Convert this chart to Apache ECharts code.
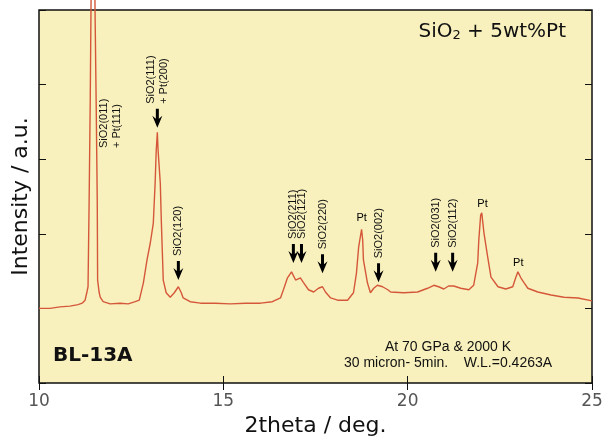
<!DOCTYPE html>
<html>
<head>
<meta charset="utf-8">
<script src="https://cdn.jsdelivr.net/npm/echarts@6/dist/echarts.min.js"></script>
<style>
  html, body { margin: 0; padding: 0; background: #fff; }
  #chart { width: 602px; height: 437px; }
</style>
</head>
<body>
<div id="chart"></div>
<script>
// 2theta (deg) and intensity (a.u.)
var twoTheta = [
  10.00, 10.30, 10.57, 10.84, 11.06, 11.17, 11.25, 11.30, 11.33, 11.36,
  11.39, 11.41, 11.47, 11.52, 11.55, 11.58, 11.59, 11.63, 11.66, 11.74,
  11.93, 12.20, 12.42, 12.61, 12.72, 12.83, 12.93, 13.02, 13.10, 13.15,
  13.18, 13.21, 13.23, 13.29, 13.32, 13.37, 13.45, 13.56, 13.67, 13.78,
  13.86, 13.91, 14.10, 14.38, 14.78, 15.19, 15.60, 16.01, 16.33, 16.55,
  16.63, 16.74, 16.85, 16.96, 17.09, 17.17, 17.31, 17.45, 17.58, 17.69,
  17.77, 17.91, 18.10, 18.37, 18.53, 18.61, 18.67, 18.75, 18.78, 18.80,
  18.91, 18.99, 19.08, 19.18, 19.32, 19.46, 19.54, 19.89, 20.27, 20.54,
  20.71, 20.84, 20.98, 21.11, 21.25, 21.44, 21.66, 21.79, 21.90, 21.93,
  21.98, 22.01, 22.07, 22.17, 22.26, 22.45, 22.66, 22.85, 22.93, 22.99,
  23.07, 23.15, 23.26, 23.53, 23.89, 24.24, 24.62, 25.00
];
var intensity = [
  1.00, 1.00, 1.02, 1.03, 1.05, 1.07, 1.11, 1.22, 1.29, 2.45,
  3.79, 5.00, 8.00, 5.00, 3.79, 2.45, 1.38, 1.22, 1.15, 1.09,
  1.06, 1.07, 1.06, 1.09, 1.11, 1.34, 1.65, 1.88, 2.14, 2.68,
  3.12, 3.36, 3.12, 2.68, 2.14, 1.38, 1.21, 1.15, 1.21, 1.29,
  1.21, 1.14, 1.09, 1.07, 1.07, 1.06, 1.07, 1.07, 1.09, 1.14,
  1.25, 1.41, 1.49, 1.38, 1.41, 1.35, 1.25, 1.22, 1.27, 1.29,
  1.22, 1.14, 1.11, 1.11, 1.21, 1.47, 1.82, 2.06, 1.92, 1.65,
  1.34, 1.21, 1.27, 1.31, 1.29, 1.25, 1.22, 1.21, 1.22, 1.27,
  1.31, 1.29, 1.26, 1.30, 1.30, 1.27, 1.25, 1.31, 1.61, 1.92,
  2.25, 2.28, 2.01, 1.69, 1.42, 1.29, 1.26, 1.29, 1.41, 1.49,
  1.41, 1.35, 1.27, 1.22, 1.18, 1.15, 1.14, 1.10
];

var xTicks = [10, 15, 20, 25];

// peak annotations (arrow tip position, arrow on/off, label)
var annX = [11.93, 13.21, 13.78, 16.90, 17.12, 17.69, 19.21, 20.76, 21.22];
var annTip = [3.15, 3.42, 1.38, 1.61, 1.61, 1.47, 1.35, 1.49, 1.49];
var annArrow = [0, 1, 1, 1, 1, 1, 1, 1, 1];
var annText = [
  'SiO2(011)\n+ Pt(111)', 'SiO2(111)\n+ Pt(200)', 'SiO2(120)',
  'SiO2(211)', 'SiO2(121)', 'SiO2(220)', 'SiO2(002)',
  'SiO2(031)', 'SiO2(112)'
];

// Pt peak labels
var ptX = [18.75, 22.03, 23.00];
var ptY = [2.21, 2.40, 1.61];

var chart = echarts.init(document.getElementById('chart'), null, { renderer: 'canvas' });

var lineData = twoTheta.map(function (x, i) { return [x, intensity[i]]; });
var annData = annX.map(function (x, i) { return [x, annTip[i], annArrow[i], i]; });
var ptData = ptX.map(function (x, i) { return [x, ptY[i]]; });

function renderArrow(params, api) {
  var p = api.coord([api.value(0), api.value(1)]);
  var hasArrow = api.value(2);
  var idx = api.value(3);
  var children = [];
  var len = 0;
  if (hasArrow) {
    len = 19;
    children.push({
      type: 'polygon',
      shape: {
        points: [
          [p[0], p[1]], [p[0] - 5, p[1] - 12], [p[0] - 1.5, p[1] - 9],
          [p[0] - 1.5, p[1] - 19], [p[0] + 1.5, p[1] - 19],
          [p[0] + 1.5, p[1] - 9], [p[0] + 5, p[1] - 12]
        ]
      },
      style: { fill: '#000' }
    });
  }
  children.push({
    type: 'text',
    x: p[0],
    y: p[1] - len - (hasArrow ? 5 : 0),
    rotation: Math.PI / 2,
    style: {
      text: annText[idx],
      fill: '#111',
      font: '11px "Liberation Sans", Arial, sans-serif',
      align: 'left',
      verticalAlign: 'middle',
      lineHeight: 13
    }
  });
  return { type: 'group', children: children };
}

var option = {
  backgroundColor: '#fff',
  animation: false,
  grid: {
    left: 39, right: 10, top: 10, bottom: 54,
    outerBoundsMode: 'none',
    show: true,
    backgroundColor: '#f8f1bd',
    borderColor: '#111',
    borderWidth: 1.5
  },
  xAxis: [{
    type: 'value',
    min: 10, max: 25, interval: 5,
    name: '2theta / deg.',
    nameLocation: 'middle',
    nameGap: 30,
    nameTextStyle: { fontFamily: 'DejaVu Sans', fontSize: 22, color: '#111' },
    axisLine: { show: false },
    axisTick: { inside: true, length: 7, lineStyle: { color: '#111' } },
    splitLine: { show: false },
    axisLabel: {
      fontFamily: 'DejaVu Sans', fontSize: 17, color: '#555', margin: 10,
      formatter: function (v) { return xTicks.indexOf(v) >= 0 ? String(v) : ''; }
    }
  }, {
    type: 'value',
    position: 'top',
    min: 10, max: 25, interval: 5,
    axisLine: { show: false },
    axisTick: { inside: true, length: 7, lineStyle: { color: '#111' } },
    splitLine: { show: false },
    axisLabel: { show: false }
  }],
  yAxis: [{
    type: 'value',
    min: 0, max: 5, interval: 1,
    name: 'Intensity / a.u.',
    nameLocation: 'middle',
    nameGap: 7,
    nameTextStyle: { fontFamily: 'DejaVu Sans', fontSize: 22, color: '#111' },
    axisLine: { show: false },
    axisTick: { inside: true, length: 7, lineStyle: { color: '#111' } },
    splitLine: { show: false },
    axisLabel: { show: false }
  }, {
    type: 'value',
    position: 'right',
    min: 0, max: 5, interval: 1,
    axisLine: { show: false },
    axisTick: { inside: true, length: 7, lineStyle: { color: '#111' } },
    splitLine: { show: false },
    axisLabel: { show: false }
  }],
  series: [{
    type: 'line',
    data: lineData,
    xAxisIndex: 0, yAxisIndex: 0,
    showSymbol: false,
    clip: false,
    lineStyle: { color: '#d5573a', width: 1.4 },
    z: 3
  }, {
    type: 'custom',
    data: annData,
    xAxisIndex: 0, yAxisIndex: 0,
    renderItem: renderArrow,
    z: 4
  }, {
    type: 'scatter',
    data: ptData,
    xAxisIndex: 0, yAxisIndex: 0,
    symbolSize: 0,
    itemStyle: { opacity: 1 },
    label: {
      show: true, position: 'inside', formatter: 'Pt',
      fontFamily: 'Liberation Sans', fontSize: 11, color: '#000',
      textBorderWidth: 0
    },
    z: 4
  }],
  graphic: [{
    type: 'text',
    x: 566, y: 32,
    style: {
      text: 'SiO{sub|2} + 5wt%Pt',
      align: 'right',
      verticalAlign: 'middle',
      font: '20px "DejaVu Sans"',
      fill: '#111',
      rich: {
        sub: { fontSize: 13, fontFamily: 'DejaVu Sans', verticalAlign: 'bottom', fill: '#111' }
      }
    }
  }, {
    type: 'text',
    x: 53, y: 356,
    style: {
      text: 'BL-13A',
      verticalAlign: 'middle',
      font: 'bold 20px "DejaVu Sans"',
      fill: '#111'
    }
  }, {
    type: 'text',
    x: 448, y: 355,
    style: {
      text: 'At 70 GPa & 2000 K\n30 micron- 5min.    W.L.=0.4263A',
      align: 'center',
      verticalAlign: 'middle',
      font: '14px "Liberation Sans"',
      lineHeight: 16,
      fill: '#111'
    }
  }]
};

chart.setOption(option);
</script>
</body>
</html>
